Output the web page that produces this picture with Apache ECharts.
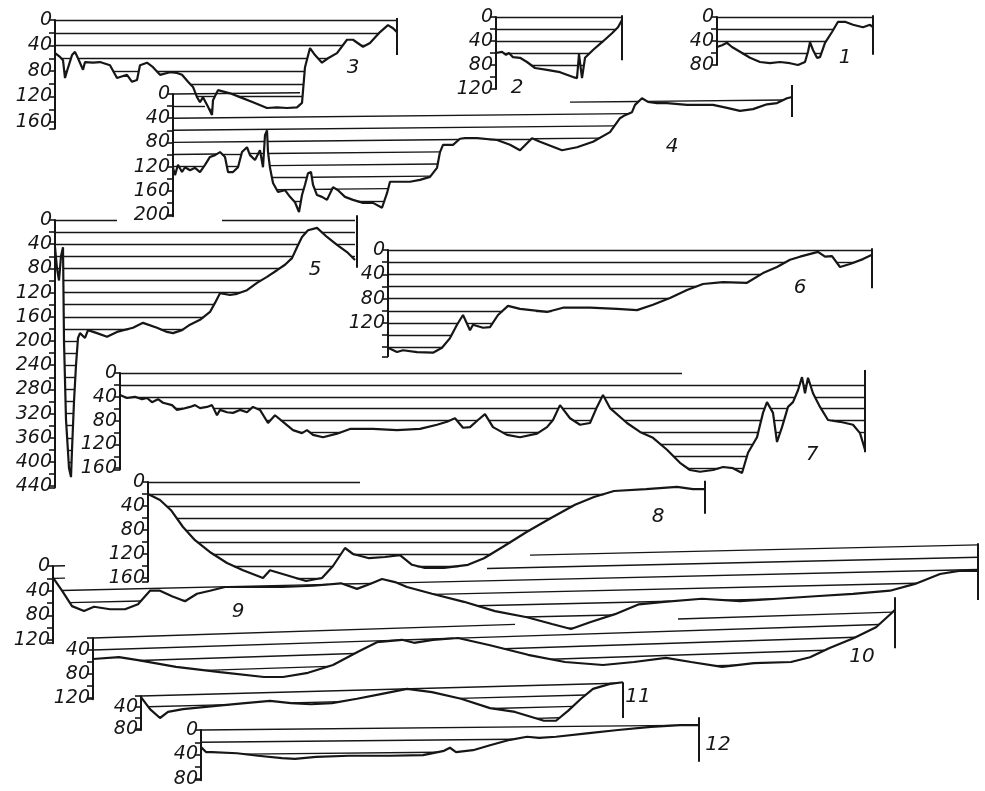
<!DOCTYPE html>
<html lang="en">
<head>
<meta charset="UTF-8">
<title>Depth profiles</title>
<script src="https://cdn.jsdelivr.net/npm/echarts/dist/echarts.min.js"></script>
<style>
    html, body { margin: 0; padding: 0; background: #fff; }
    #chart { width: 985px; height: 791px; }
</style>
</head>
<body>
<div id="chart"></div>
<script>
// profiles: [distance, depth]
var profile1 = [[0,50],[5,47],[10,43],[15,50],[23,58],[33,68],[43,75],[53,77],[63,75],[73,77],[81,80],[88,75],[91,58],[93,42],[96,55],[100,68],[103,67],[108,43],[115,25],[121,8],[128,8],[136,13],[146,17],[153,13],[156,17]];
var profile2 = [[0,60],[6,58],[10,63],[13,60],[17,67],[24,68],[31,75],[39,85],[51,88],[64,92],[77,100],[81,102],[83,62],[86,102],[89,68],[97,55],[106,42],[116,27],[122,17],[126,5]];
var profile3 = [[0,52],[5,58],[8,63],[10,91],[13,75],[17,55],[20,50],[23,60],[28,78],[30,66],[38,67],[45,66],[55,71],[62,91],[72,86],[77,97],[82,94],[85,71],[92,67],[98,74],[105,86],[115,82],[122,83],[127,86],[133,97],[138,105],[142,121],[145,129],[148,121],[153,136],[157,149],[158,126],[163,110],[175,115],[185,121],[198,129],[212,138],[222,137],[232,138],[242,137],[247,130],[250,74],[255,44],[260,55],[267,67],[273,60],[282,52],[292,31],[298,31],[308,42],[315,36],[325,19],[333,8],[338,13],[342,19]];
var profile4 = [[0,122],[2,134],[5,117],[9,129],[12,121],[17,126],[22,122],[27,129],[32,117],[37,104],[42,101],[47,96],[52,104],[55,129],[60,129],[65,121],[69,96],[74,88],[77,101],[82,109],[87,93],[90,121],[92,68],[94,60],[95,96],[97,122],[100,147],[105,162],[112,159],[117,170],[122,179],[126,195],[129,167],[132,150],[135,131],[138,129],[140,150],[144,167],[149,170],[154,175],[160,154],[165,159],[172,170],[180,175],[190,180],[200,180],[209,188],[214,164],[217,145],[227,145],[237,145],[247,142],[257,137],[264,122],[267,96],[270,84],[280,84],[287,74],[292,73],[304,73],[324,76],[337,84],[347,93],[359,73],[367,79],[389,93],[404,88],[420,79],[437,63],[447,40],[452,35],[459,30],[462,18],[469,7],[475,13],[484,15],[494,15],[514,18],[540,18],[554,23],[567,28],[580,25],[594,17],[604,15],[614,7],[619,5]];
var profile5 = [[0,45],[2,80],[4,100],[6,60],[8,45],[9,200],[11,330],[14,410],[16,425],[17,380],[19,300],[21,240],[23,195],[25,187],[30,195],[33,182],[42,187],[52,193],[62,185],[78,178],[88,170],[102,178],[112,185],[118,187],[127,182],[135,173],[145,165],[155,152],[160,137],[165,121],[175,124],[182,122],[192,116],[202,104],[212,94],[222,83],[230,74],[237,63],[242,45],[247,28],[253,17],[262,13],[272,28],[282,41],[292,53],[300,66]];
var profile6 = [[0,161],[9,168],[15,165],[29,168],[45,169],[54,161],[62,145],[69,123],[75,107],[82,132],[85,123],[95,128],[102,127],[110,107],[120,92],[132,97],[159,102],[175,95],[202,95],[229,97],[249,99],[265,90],[282,79],[299,66],[315,56],[335,53],[359,54],[375,38],[389,28],[402,16],[412,11],[430,3],[437,11],[444,10],[452,28],[462,23],[475,15],[484,8]];
var profile7 = [[0,37],[7,42],[15,40],[22,44],[27,42],[32,49],[38,44],[43,50],[52,54],[57,62],[63,60],[70,57],[75,54],[80,59],[87,57],[92,54],[97,71],[100,62],[107,66],[113,67],[120,62],[127,66],[133,57],[140,62],[148,84],[155,71],[163,82],[173,96],[182,101],[187,96],[193,104],[203,108],[217,102],[230,94],[253,94],[277,96],[300,94],[317,87],[327,82],[335,76],[343,92],[350,91],[358,79],[365,69],[373,91],[387,104],[400,108],[417,102],[427,91],[433,79],[440,54],[450,76],[460,87],[470,84],[477,57],[483,37],[490,59],[507,84],[520,99],[533,109],[547,129],[560,151],[570,163],[580,166],[593,163],[603,158],[613,160],[622,168],[628,134],[637,108],[643,67],[647,49],[653,67],[657,116],[662,91],[668,57],[673,49],[678,29],[682,7],[685,34],[688,8],[693,34],[700,57],[708,79],[720,82],[733,87],[740,101],[745,129]];
var profile8 = [[0,20],[12,30],[23,47],[35,75],[47,97],[63,118],[79,135],[95,147],[115,160],[122,147],[138,155],[158,165],[174,160],[185,140],[197,110],[205,120],[221,127],[237,125],[252,122],[264,138],[276,143],[296,143],[320,138],[336,127],[355,108],[379,83],[403,60],[427,38],[446,25],[466,15],[498,12],[529,8],[545,12],[557,12]];
var profile9 = [[0,19],[9,40],[19,65],[31,73],[41,66],[57,70],[72,70],[85,62],[97,40],[107,40],[119,49],[132,57],[144,45],[157,40],[172,34],[197,34],[229,34],[260,32],[288,28],[304,37],[317,29],[329,21],[342,26],[354,34],[379,45],[411,58],[442,73],[474,83],[499,94],[518,102],[537,91],[562,78],[586,62],[611,58],[649,53],[687,57],[724,53],[762,49],[800,45],[837,40],[862,29],[887,13],[906,8],[925,8]];
var profile10 = [[0,55],[26,52],[45,57],[83,68],[127,77],[171,85],[190,85],[215,78],[240,65],[265,43],[284,27],[309,23],[321,28],[340,23],[365,20],[397,32],[435,48],[472,60],[510,65],[541,60],[573,53],[598,60],[629,68],[661,62],[698,60],[717,52],[736,37],[761,20],[783,2],[799,-22],[802,-27]];
var profile11 = [[0,22],[9,44],[19,60],[27,49],[42,44],[75,38],[104,33],[129,29],[150,33],[170,35],[191,33],[216,25],[241,16],[266,7],[291,13],[320,25],[349,42],[374,49],[403,65],[415,65],[427,47],[440,25],[452,7],[469,-2],[482,-5]];
var profile12 = [[0,28],[5,36],[11,36],[36,38],[57,42],[81,46],[94,47],[115,44],[148,42],[189,42],[222,41],[243,34],[249,29],[255,36],[272,33],[289,25],[309,16],[326,11],[338,13],[355,11],[388,5],[417,0],[450,-5],[479,-8],[498,-8]];

// labelled depth ticks
var ticks1 = [0, 40, 80];
var ticks2 = [0, 40, 80, 120];
var ticks3 = [0, 40, 80, 120, 160];
var ticks4 = [0, 40, 80, 120, 160, 200];
var ticks5 = [0, 40, 80, 120, 160, 200, 240, 280, 320, 360, 400, 440];
var ticks6 = [0, 40, 80, 120];
var ticks7 = [0, 40, 80, 120, 160];
var ticks8 = [0, 40, 80, 120, 160];
var ticks9 = [0, 40, 80, 120];
var ticks10 = [40, 80, 120];
var ticks11 = [40, 80];
var ticks12 = [0, 40, 80];

// parts of a hatch level that are visible (others hidden under neighbouring profiles)
var visible4 = {0: [[0, 127]], 20: [[0, 32], [397, 619]]};
var visible5 = {0: [[0, 62], [167, 302]]};
var visible7 = {0: [[0, 562]]};
var visible8 = {0: [[0, 212]]};
var visible9 = {0: [[0, 12], [477, 925]], 20: [[0, 12], [434, 925]]};
var visible10 = {20: [[0, 422], [585, 802]]};

var panels = [
    {num: '1',  profile: profile1,  ticks: ticks1,  ax: 717, y0: 17,  px40: 24,   min: 0,  max: 80,  width: 156, tilt: 0,      edge: [-3, 63],  tag: [845, 58]},
    {num: '2',  profile: profile2,  ticks: ticks2,  ax: 496, y0: 17,  px40: 24,   min: 0,  max: 120, width: 126, tilt: 0,      edge: [-3, 72],  tag: [517, 88]},
    {num: '3',  profile: profile3,  ticks: ticks3,  ax: 55,  y0: 20,  px40: 25.5, min: 0,  max: 170, width: 342, tilt: 0,      edge: [-3, 55],  tag: [353, 68]},
    {num: '4',  profile: profile4,  ticks: ticks4,  ax: 173, y0: 94,  px40: 24.2, min: 0,  max: 202, width: 619, tilt: 0.0165, edge: [-15, 38], tag: [672, 147], visible: visible4},
    {num: '5',  profile: profile5,  ticks: ticks5,  ax: 55,  y0: 220, px40: 24.2, min: 0,  max: 442, width: 302, tilt: 0,      edge: [-8, 79],  tag: [315, 270], visible: visible5},
    {num: '6',  profile: profile6,  ticks: ticks6,  ax: 388, y0: 250, px40: 24.3, min: 0,  max: 175, width: 484, tilt: 0,      edge: [-3, 63],  tag: [800, 288]},
    {num: '7',  profile: profile7,  ticks: ticks7,  ax: 120, y0: 373, px40: 23.8, min: 0,  max: 162, width: 745, tilt: 0,      edge: [-5, 133], tag: [812, 455], visible: visible7},
    {num: '8',  profile: profile8,  ticks: ticks8,  ax: 148, y0: 482, px40: 24,   min: 0,  max: 166, width: 557, tilt: 0,      edge: [-2, 53],  tag: [658, 517], visible: visible8},
    {num: '9',  profile: profile9,  ticks: ticks9,  ax: 53,  y0: 566, px40: 24.7, min: 0,  max: 125, width: 925, tilt: 0.037,  edge: [-37, 55], tag: [238, 612], visible: visible9},
    {num: '10', profile: profile10, ticks: ticks10, ax: 93,  y0: 626, px40: 24,   min: 20, max: 122, width: 802, tilt: 0.054,  edge: [-48, 37], tag: [862, 657], visible: visible10},
    {num: '11', profile: profile11, ticks: ticks11, ax: 141, y0: 685, px40: 22,   min: 20, max: 82,  width: 482, tilt: 0.049,  edge: [-5, 60],  tag: [638, 697]},
    {num: '12', profile: profile12, ticks: ticks12, ax: 201, y0: 730, px40: 24.5, min: 0,  max: 82,  width: 498, tilt: 0.016,  edge: [-21, 52], tag: [718, 745]}
];

var STEP = 20;
var INK = '#161616';
var FONT = '"DejaVu Sans", "Liberation Sans", sans-serif';

// where the level line (tilted by "tilt") lies above the bottom
function wetParts(profile, level, tilt) {
    var parts = [], start = null;
    function gap(p) { return p[1] - (level - tilt * p[0]); }
    for (var i = 0; i < profile.length; i++) {
        var p = profile[i], g = gap(p);
        if (i === 0) {
            if (g > 0) start = p[0];
            continue;
        }
        var q = profile[i - 1], gq = gap(q);
        if (gq <= 0 && g > 0) {
            start = q[0] + (p[0] - q[0]) * (-gq) / (g - gq);
        } else if (gq > 0 && g <= 0) {
            parts.push([start, q[0] + (p[0] - q[0]) * gq / (gq - g)]);
            start = null;
        }
    }
    if (start !== null) parts.push([start, profile[profile.length - 1][0]]);
    return parts;
}

function keepInside(parts, windows) {
    if (!windows) return parts;
    var out = [];
    parts.forEach(function (a) {
        windows.forEach(function (w) {
            var s = Math.max(a[0], w[0]), e = Math.min(a[1], w[1]);
            if (e > s) out.push([s, e]);
        });
    });
    return out;
}

var grids = [], xAxes = [], yAxes = [], series = [], texts = [];

panels.forEach(function (p, i) {
    var u = p.px40 / 40;
    grids.push({
        left: p.ax, top: p.y0 + p.min * u,
        width: p.width, height: (p.max - p.min) * u,
        outerBoundsMode: 'none'
    });
    xAxes.push({gridIndex: i, type: 'value', min: 0, max: p.width, show: false});
    var ticks = p.ticks;
    yAxes.push({
        gridIndex: i, type: 'value', inverse: true,
        min: p.min, max: p.max, interval: STEP,
        axisLine: {show: true, lineStyle: {color: INK, width: 2}},
        axisTick: {show: true, inside: false, length: 6, lineStyle: {color: INK, width: 1.6}},
        axisLabel: {
            margin: 3, color: INK, fontSize: 19, fontStyle: 'italic', fontFamily: FONT,
            formatter: function (v) { return ticks.indexOf(v) >= 0 ? String(v) : ''; }
        },
        splitLine: {show: false}
    });

    var segs = [];
    for (var lv = p.min; lv < p.max; lv += STEP) {
        var win = p.visible ? p.visible[lv] : null;
        keepInside(wetParts(p.profile, lv, p.tilt), win).forEach(function (a) {
            if (a[1] - a[0] < 2) return;
            segs.push({coords: [[a[0], lv - p.tilt * a[0]], [a[1], lv - p.tilt * a[1]]]});
        });
    }
    segs.push({coords: [[p.width, p.edge[0]], [p.width, p.edge[1]]], lineStyle: {width: 2}});

    series.push({
        type: 'lines', coordinateSystem: 'cartesian2d',
        xAxisIndex: i, yAxisIndex: i, clip: false, silent: true,
        lineStyle: {color: INK, width: 1.4, opacity: 1, curveness: 0},
        data: segs
    });
    series.push({
        type: 'line', xAxisIndex: i, yAxisIndex: i, clip: false, silent: true,
        symbol: 'none', showSymbol: false,
        lineStyle: {color: INK, width: 2.2},
        data: p.profile
    });
    texts.push({
        type: 'text', x: p.tag[0], y: p.tag[1],
        style: {text: p.num, font: 'italic 20px ' + FONT, fill: INK,
                align: 'center', verticalAlign: 'middle',
                textAlign: 'center', textVerticalAlign: 'middle'}
    });
});

var chart = echarts.init(document.getElementById('chart'), null, {renderer: 'canvas'});
chart.setOption({
    animation: false,
    backgroundColor: '#fff',
    grid: grids,
    xAxis: xAxes,
    yAxis: yAxes,
    series: series,
    graphic: texts
});
</script>
</body>
</html>
